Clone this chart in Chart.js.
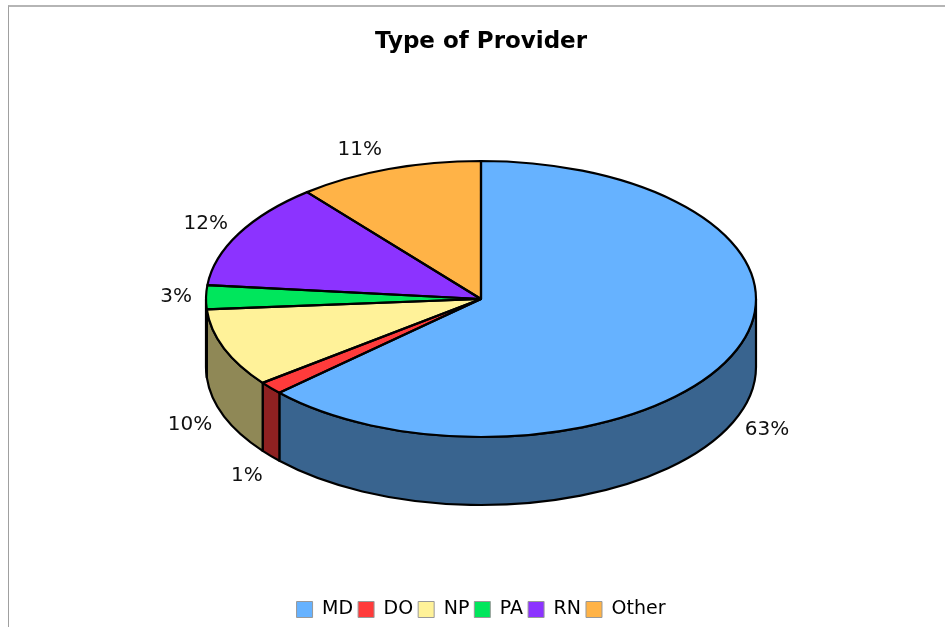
<!DOCTYPE html>
<html>
<head>
<meta charset="utf-8">
<title>Type of Provider</title>
<script src="https://cdn.jsdelivr.net/npm/chart.js@4"></script>
<style>
    body { margin: 0; background: #fff; }
    #frame { position: absolute; left: 8px; top: 5px; right: 0; bottom: 0; border-top: 2px solid #b5b5b5; border-left: 1px solid #a0a0a0; }
    #chart { position: absolute; left: 0; top: 0; }
</style>
</head>
<body>
<div id="frame"></div>
<canvas id="chart" width="945" height="627"></canvas>
<script>
const categories = ["MD", "DO", "NP", "PA", "RN", "Other"];
const shares = [63.1, 1.5, 9.2, 2.8, 12.5, 10.9];
const shareLabels = ["63%", "1%", "10%", "3%", "12%", "11%"];
const colors = ["#66B2FF", "#FF3B3B", "#FFF299", "#00E65C", "#8C33FF", "#FFB347"];

const fontName = '"DejaVu Sans", Verdana, sans-serif';
const centerY = 299;
const radiusX = 275;
const radiusY = 138;
const depth = 68;
// label offset from the rim of each slice
const labelNudge = [[34, 8], [-24, 20], [-34, 9], [-30, 0], [-33, -10], [-29, -19]];

function darken(hex) {
    const n = parseInt(hex.slice(1), 16);
    const r = Math.round((n >> 16) * 0.56);
    const g = Math.round(((n >> 8) & 255) * 0.56);
    const b = Math.round((n & 255) * 0.56);
    return "rgb(" + r + "," + g + "," + b + ")";
}

// squashes the library's round pie into a tilted disc with a side wall
const tiltPlugin = {
    id: "tilt",
    beforeDatasetsDraw(chart) {
        const ctx = chart.ctx;
        chart.getDatasetMeta(0).data.forEach(function (arc, i) {
            const from = Math.max(arc.startAngle, 0);
            const to = Math.min(arc.endAngle, Math.PI);
            if (from >= to) return;
            ctx.beginPath();
            ctx.ellipse(arc.x, centerY, radiusX, radiusY, 0, from, to);
            ctx.ellipse(arc.x, centerY + depth, radiusX, radiusY, 0, to, from, true);
            ctx.closePath();
            ctx.fillStyle = darken(colors[i]);
            ctx.fill();
            ctx.lineWidth = 2.2;
            ctx.lineJoin = "round";
            ctx.strokeStyle = "#000";
            ctx.stroke();
        });
    },
    beforeDatasetDraw(chart) {
        const ctx = chart.ctx;
        const y = chart.getDatasetMeta(0).data[0].y;
        ctx.save();
        ctx.translate(0, centerY);
        ctx.scale(1, radiusY / radiusX);
        ctx.translate(0, -y);
    },
    afterDatasetDraw(chart) {
        chart.ctx.restore();
    },
    afterDatasetsDraw(chart) {
        const ctx = chart.ctx;
        chart.getDatasetMeta(0).data.forEach(function (arc, i) {
            ctx.beginPath();
            ctx.moveTo(arc.x, centerY);
            ctx.ellipse(arc.x, centerY, radiusX, radiusY, 0, arc.startAngle, arc.endAngle);
            ctx.closePath();
            ctx.lineWidth = 2.2;
            ctx.lineJoin = "round";
            ctx.strokeStyle = "#000";
            ctx.stroke();

            const mid = (arc.startAngle + arc.endAngle) / 2;
            const lower = Math.sin(mid) > 0.2;
            const x = arc.x + radiusX * Math.cos(mid) + labelNudge[i][0];
            const y = centerY + radiusY * Math.sin(mid) + (lower ? depth : 0) + labelNudge[i][1];
            ctx.font = "20px " + fontName;
            ctx.fillStyle = "#111";
            ctx.textAlign = "center";
            ctx.textBaseline = "middle";
            ctx.fillText(shareLabels[i], x, y);
        });
    }
};

new Chart(document.getElementById("chart"), {
    type: "pie",
    data: {
        labels: categories,
        datasets: [{
            data: shares,
            backgroundColor: colors,
            borderWidth: 0,
            radius: radiusX,
            clip: false
        }]
    },
    options: {
        responsive: false,
        animation: false,
        events: [],
        layout: { padding: { left: 17, bottom: -2 } },
        plugins: {
            tooltip: { enabled: false },
            title: {
                display: true,
                text: "Type of Provider",
                color: "#000",
                font: { family: fontName, size: 23, weight: "bold" },
                padding: { top: 28, bottom: 10 }
            },
            legend: {
                position: "bottom",
                labels: {
                    boxWidth: 16,
                    boxHeight: 16,
                    padding: 5,
                    color: "#111",
                    font: { family: fontName, size: 19 },
                    generateLabels: function () {
                        return categories.map(function (name, i) {
                            return { text: name, fillStyle: colors[i], strokeStyle: "#999", lineWidth: 1, index: i };
                        });
                    }
                }
            }
        }
    },
    plugins: [tiltPlugin]
});
</script>
</body>
</html>
